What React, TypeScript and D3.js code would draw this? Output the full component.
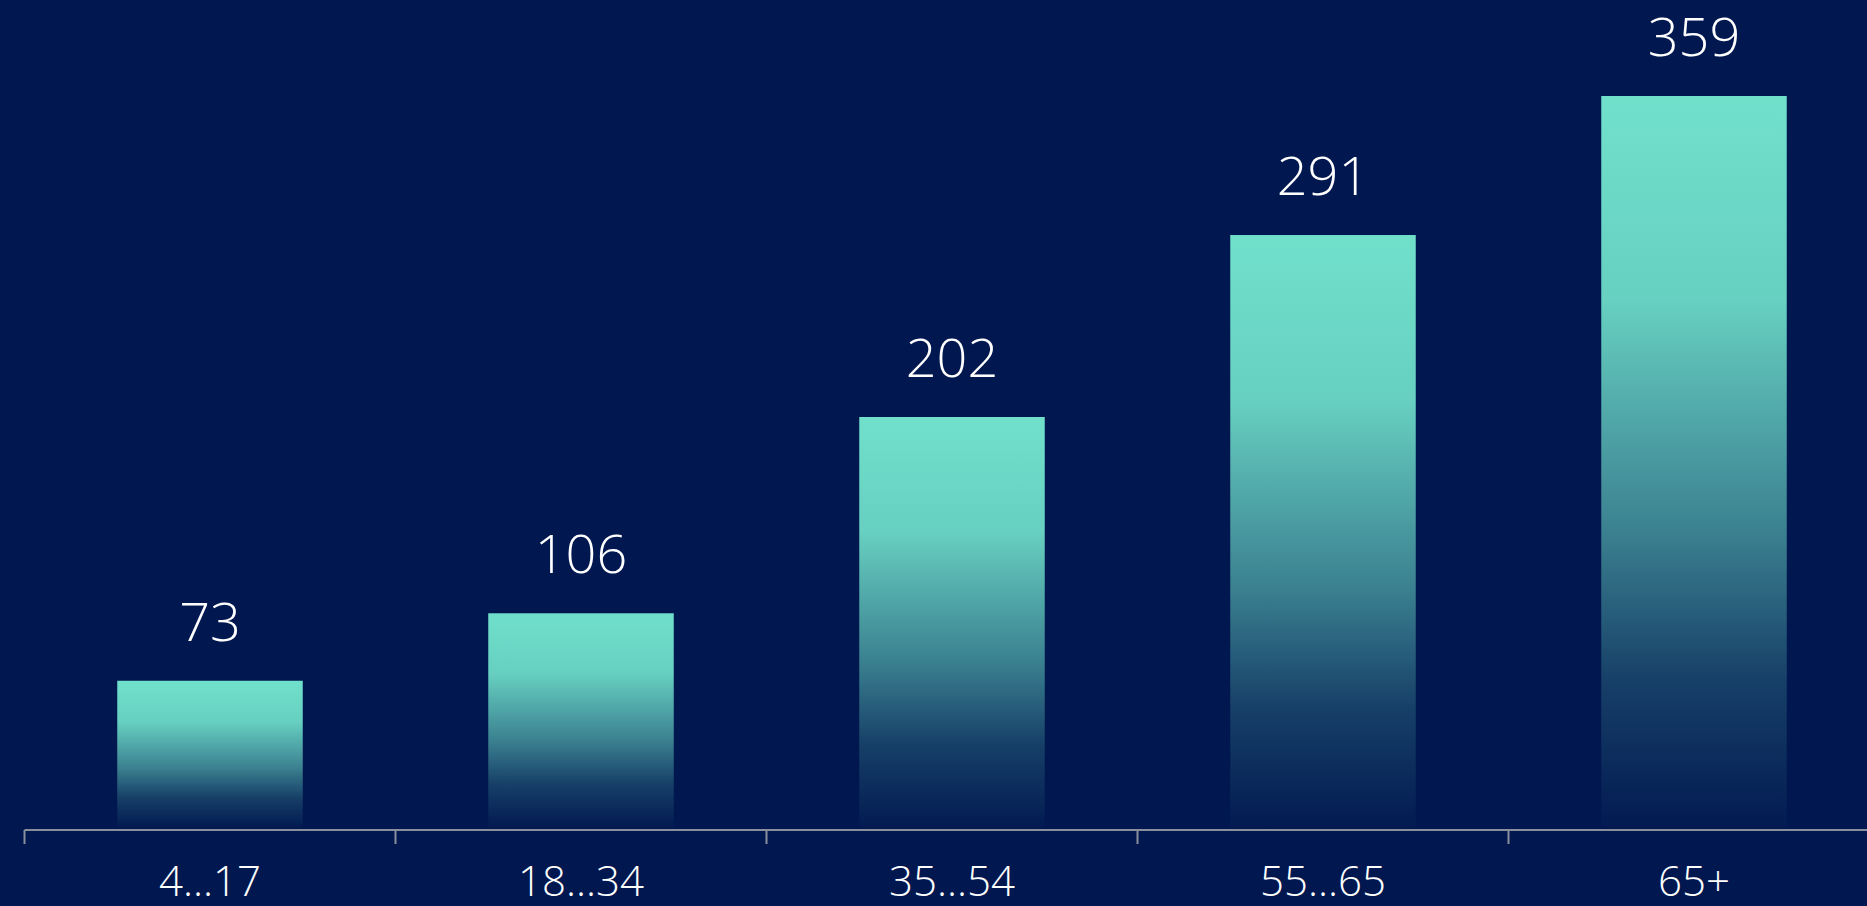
import React, { useEffect, useRef } from 'react';
import * as d3 from 'd3';

const categories = ['4...17', '18...34', '35...54', '55...65', '65+'];
const values = [73, 106, 202, 291, 359];

const width = 1867;
const height = 906;
const bg = '#00174f';
const teal = '#70e0cb';

const App: React.FC = () => {
  const svgRef = useRef<SVGSVGElement | null>(null);

  useEffect(() => {
    if (!svgRef.current) return;
    const svg = d3.select(svgRef.current);
    svg.selectAll('*').remove();

    const axisY = 830;
    const x = d3.scaleBand<string>()
      .domain(categories)
      .range([24.5, 24.5 + 371 * 5])
      .paddingInner(0.5)
      .paddingOuter(0.25);
    const y = d3.scaleLinear().domain([0, 400]).range([axisY, axisY - 400 * 2.0446]);

    svg.append('rect').attr('width', width).attr('height', height).attr('fill', bg);

    const defs = svg.append('defs');
    const grad = defs.append('linearGradient')
      .attr('id', 'barGrad')
      .attr('x1', 0).attr('y1', 0).attr('x2', 0).attr('y2', 1);
    grad.append('stop').attr('offset', '0%').attr('stop-color', teal).attr('stop-opacity', 1);
    grad.append('stop').attr('offset', '28%').attr('stop-color', teal).attr('stop-opacity', 0.92);
    grad.append('stop').attr('offset', '60%').attr('stop-color', teal).attr('stop-opacity', 0.52);
    grad.append('stop').attr('offset', '80%').attr('stop-color', teal).attr('stop-opacity', 0.2);
    grad.append('stop').attr('offset', '100%').attr('stop-color', teal).attr('stop-opacity', 0.02);

    const data = categories.map((c, i) => ({ c, v: values[i] }));

    // bars
    svg.selectAll('rect.bar')
      .data(data)
      .enter()
      .append('rect')
      .attr('class', 'bar')
      .attr('x', d => x(d.c)!)
      .attr('y', d => y(d.v))
      .attr('width', x.bandwidth())
      .attr('height', d => axisY - 3 - y(d.v))
      .attr('fill', 'url(#barGrad)');

    // value labels
    svg.selectAll('text.val')
      .data(data)
      .enter()
      .append('text')
      .attr('class', 'val')
      .attr('x', d => x(d.c)! + x.bandwidth() / 2)
      .attr('y', d => y(d.v) - 40)
      .attr('text-anchor', 'middle')
      .attr('fill', '#ffffff')
      .style('font-family', '"Open Sans", sans-serif')
      .style('font-weight', 300)
      .style('font-size', '54px')
      .text(d => d.v);

    // axis
    svg.append('line')
      .attr('x1', 24.5).attr('x2', width)
      .attr('y1', axisY).attr('y2', axisY)
      .attr('stroke', '#8a8f9e').attr('stroke-width', 2);

    svg.selectAll('line.tick')
      .data(categories)
      .enter()
      .append('line')
      .attr('class', 'tick')
      .attr('x1', c => x(c)! - x.step() * 0.25)
      .attr('x2', c => x(c)! - x.step() * 0.25)
      .attr('y1', axisY).attr('y2', axisY + 14)
      .attr('stroke', '#8a8f9e').attr('stroke-width', 2);

    svg.selectAll('text.cat')
      .data(categories)
      .enter()
      .append('text')
      .attr('class', 'cat')
      .attr('x', c => x(c)! + x.bandwidth() / 2)
      .attr('y', 896)
      .attr('text-anchor', 'middle')
      .attr('fill', '#ffffff')
      .style('font-family', '"Open Sans", sans-serif')
      .style('font-weight', 300)
      .style('font-size', '42px')
      .text(c => c);
  }, []);

  return (
    <svg
      ref={svgRef}
      width={width}
      height={height}
      style={{ position: 'absolute', top: 0, left: 0, display: 'block' }}
    />
  );
};

export default App;
